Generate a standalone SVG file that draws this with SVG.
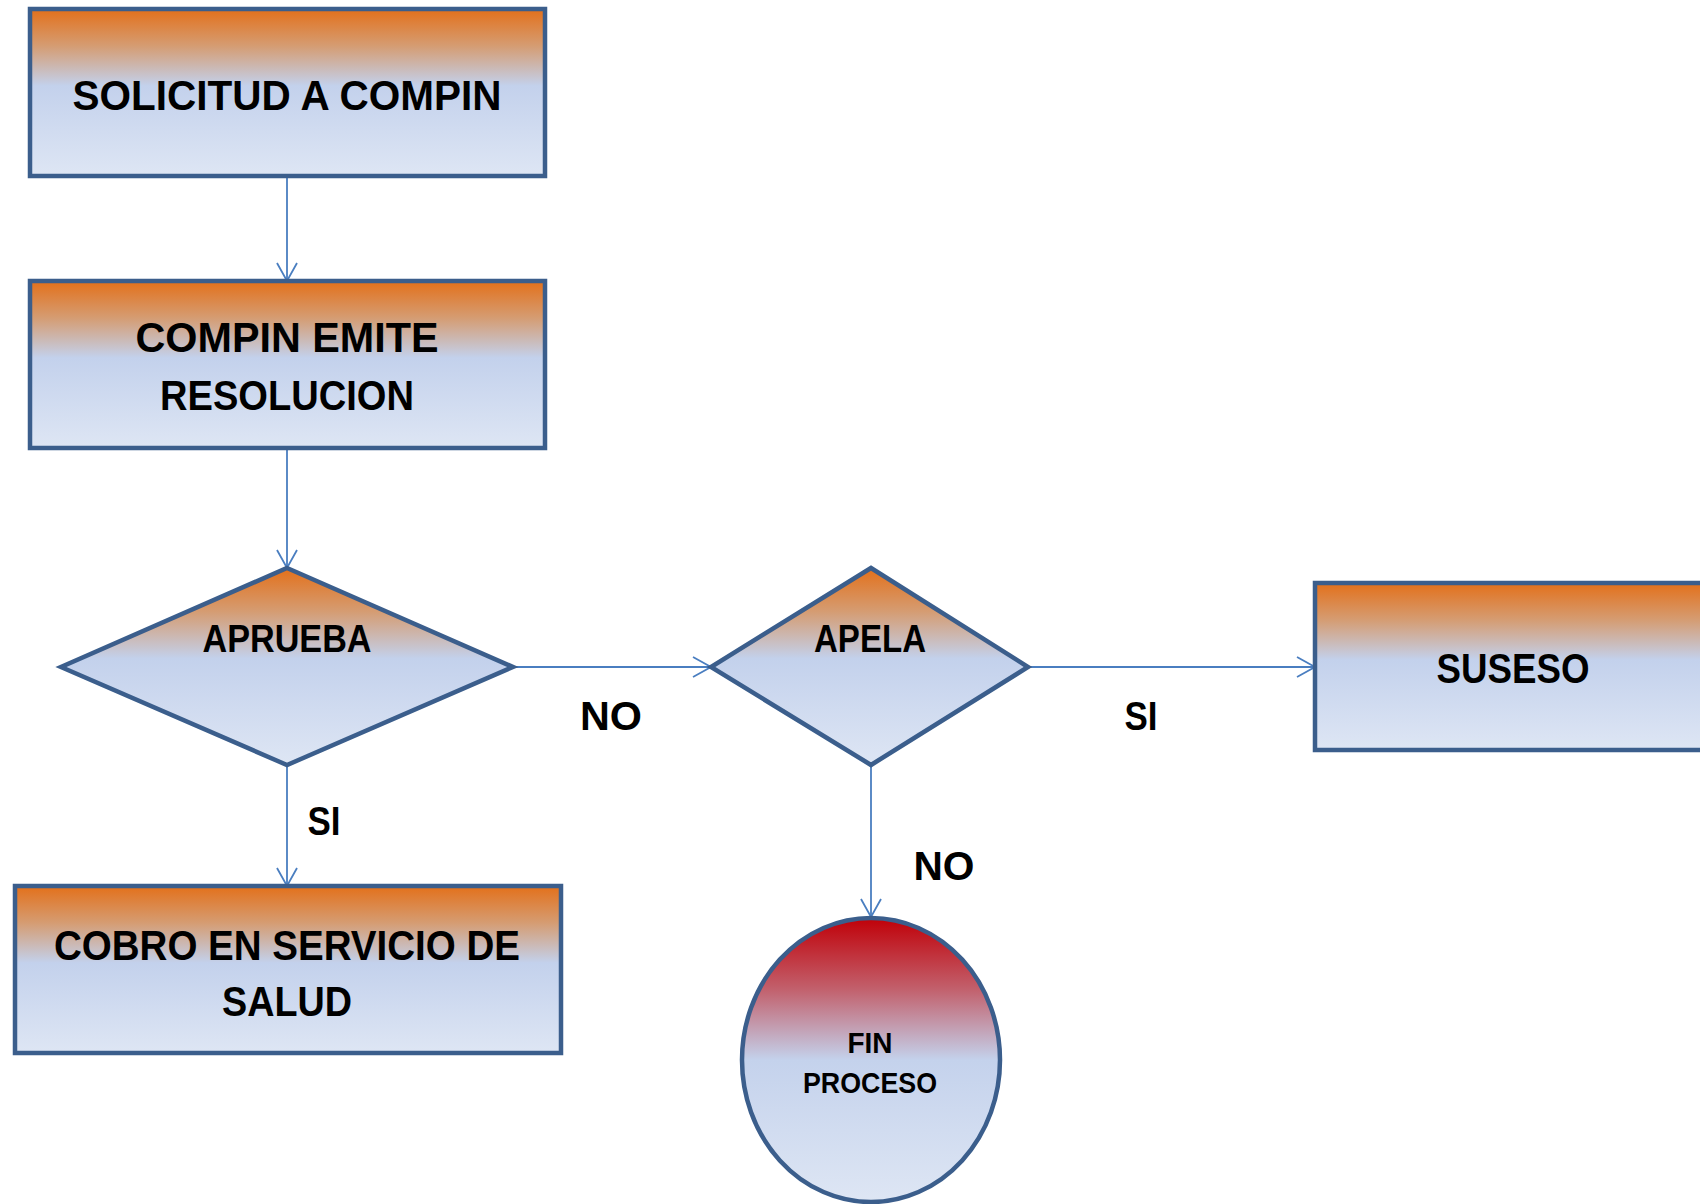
<svg xmlns="http://www.w3.org/2000/svg" width="1700" height="1204" viewBox="0 0 1700 1204">
<defs>
<linearGradient id="g" x1="0" y1="0" x2="0" y2="1">
<stop offset="0" stop-color="#E3701A"/>
<stop offset="0.22" stop-color="#D59C72"/>
<stop offset="0.46" stop-color="#C3D1EC"/>
<stop offset="1" stop-color="#DEE6F4"/>
</linearGradient>
<linearGradient id="gr" x1="0" y1="0" x2="0" y2="1">
<stop offset="0" stop-color="#C00008"/>
<stop offset="0.25" stop-color="#C2606C"/>
<stop offset="0.5" stop-color="#C4D2EC"/>
<stop offset="1" stop-color="#DEE6F4"/>
</linearGradient>
<marker id="ar" markerUnits="userSpaceOnUse" markerWidth="24" markerHeight="24" viewBox="0 0 24 24" refX="20" refY="12" orient="auto">
<path d="M2,2 L20,12 L2,22" fill="none" stroke="#4A7EC0" stroke-width="1.8"/>
</marker>
<style>
.n{fill:url(#g);stroke:#3B5E8C;stroke-width:4.5}
.e{fill:url(#gr);stroke:#3B5E8C;stroke-width:4.5}
.c{fill:none;stroke:#4A7EC0;stroke-width:1.8;marker-end:url(#ar)}
text{font-family:"Liberation Sans",Arial,sans-serif;font-weight:bold;fill:#000;text-anchor:middle}
.b{font-size:43px}
.d{font-size:38px}
.l{font-size:41px}
.s{font-size:30px}
</style>
</defs>
<g id="connectors">
<path class="c" d="M287,177 L287,281"/>
<path class="c" d="M287,449 L287,568"/>
<path class="c" d="M514,667 L711,667"/>
<path class="c" d="M287,766 L287,886"/>
<path class="c" d="M1029,667 L1315,667"/>
<path class="c" d="M871,766 L871,917"/>
</g>
<g id="solicitud">
<rect class="n" x="30" y="9" width="515" height="167"/>
<text class="b" x="287" y="110" textLength="429" lengthAdjust="spacingAndGlyphs">SOLICITUD A COMPIN</text>
</g>
<g id="emite">
<rect class="n" x="30" y="281" width="515" height="167"/>
<text class="b" x="287" y="352" textLength="303" lengthAdjust="spacingAndGlyphs">COMPIN EMITE</text>
<text class="b" x="287" y="410" textLength="254" lengthAdjust="spacingAndGlyphs">RESOLUCION</text>
</g>
<g id="aprueba">
<polygon class="n" points="287,568 513,667 287,765 61,667"/>
<text class="d" x="287" y="652" textLength="169" lengthAdjust="spacingAndGlyphs">APRUEBA</text>
</g>
<g id="apela">
<polygon class="n" points="871,568 1028,667 871,765 711,667"/>
<text class="d" x="870" y="652" textLength="112" lengthAdjust="spacingAndGlyphs">APELA</text>
</g>
<g id="suseso">
<rect class="n" x="1315" y="583" width="420" height="167"/>
<text class="b" x="1513" y="683" textLength="153" lengthAdjust="spacingAndGlyphs">SUSESO</text>
</g>
<g id="cobro">
<rect class="n" x="15" y="886" width="546" height="167"/>
<text class="b" x="287" y="960" textLength="466" lengthAdjust="spacingAndGlyphs">COBRO EN SERVICIO DE</text>
<text class="b" x="287" y="1016" textLength="130" lengthAdjust="spacingAndGlyphs">SALUD</text>
</g>
<g id="fin">
<ellipse class="e" cx="871" cy="1060" rx="129" ry="142"/>
<text class="s" x="870" y="1053" textLength="45" lengthAdjust="spacingAndGlyphs">FIN</text>
<text class="s" x="870" y="1093" textLength="134" lengthAdjust="spacingAndGlyphs">PROCESO</text>
</g>
<g id="labels">
<text class="l" x="611" y="730" textLength="62" lengthAdjust="spacingAndGlyphs">NO</text>
<text class="l" x="1141" y="730" textLength="33" lengthAdjust="spacingAndGlyphs">SI</text>
<text class="l" x="324" y="835" textLength="33" lengthAdjust="spacingAndGlyphs">SI</text>
<text class="l" x="944" y="880" textLength="61" lengthAdjust="spacingAndGlyphs">NO</text>
</g>
</svg>
